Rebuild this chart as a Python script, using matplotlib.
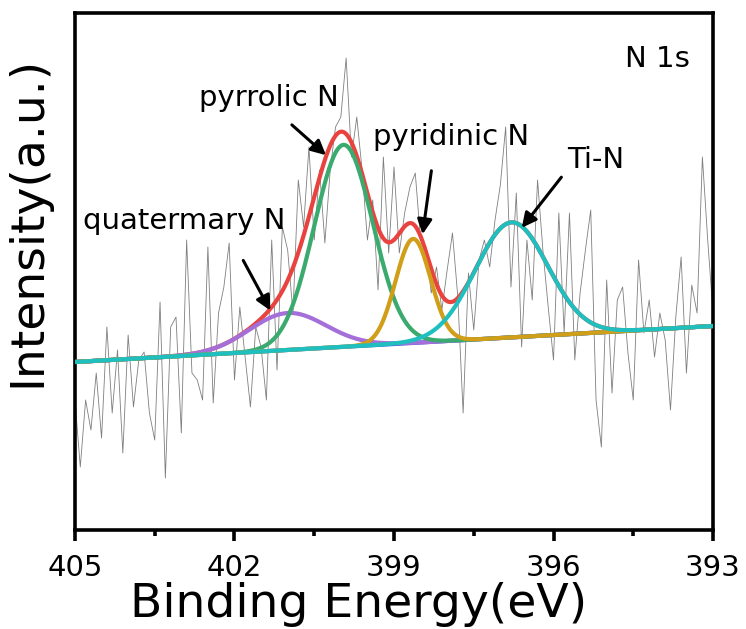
import numpy as np
import matplotlib
matplotlib.use('Agg')
import matplotlib.pyplot as plt

plt.rcParams['font.family'] = ['DejaVu Sans']

# raw N 1s spectrum, 0.1 eV steps from 405 down to 393 eV (arb. units)
raw_be = np.round(np.linspace(405.0, 393.0, 121), 2)
raw_counts = [
    130, 63, 130, 100, 157, 92, 203, 117, 180, 77, 195, 123, 170, 178, 117, 90, 228, 52, 203, 213, 97,
    290, 157, 150, 130, 283, 127, 217, 243, 287, 150, 223, 173, 123, 203, 183, 130, 290, 160, 303, 280,
    217, 350, 303, 383, 290, 360, 287, 360, 403, 413, 472, 373, 413, 360, 290, 330, 240, 373, 277, 363,
    277, 317, 343, 357, 290, 283, 237, 263, 220, 260, 297, 233, 117, 257, 200, 270, 290, 263, 310, 345,
    403, 243, 337, 183, 290, 230, 350, 280, 223, 170, 317, 197, 317, 170, 237, 280, 320, 130, 83, 250,
    137, 230, 243, 177, 130, 270, 197, 230, 173, 217, 190, 120, 213, 273, 157, 245, 217, 373, 290, 217,
]

# linear background (value at 405 eV and at 393 eV)
bg_ends = [168, 204]

# fitted components
peak_names = ['quatermary N', 'pyrrolic N', 'pyridinic N', 'Ti-N']
peak_centers = [401.0, 399.95, 398.64, 396.79]
peak_heights = [37, 202, 104, 115]
peak_sigmas = [0.72, 0.55, 0.33, 0.68]
peak_colors = ['#A46FD8', '#3BAA6E', '#D09E18', '#1FBFBF']

be = np.linspace(405, 393, 800)
bg = np.interp(be, [393, 405], bg_ends[::-1])

fig = plt.figure(figsize=(7.46, 6.29), dpi=100)
ax = fig.add_axes([0.1005, 0.1574, 0.8553, 0.8219])

ax.plot(raw_be, raw_counts, color='#7f7f7f', lw=0.6, zorder=1)

comps = []
for c, h, s in zip(peak_centers, peak_heights, peak_sigmas):
    comps.append(h * np.exp(-(be - c) ** 2 / (2 * s ** 2)))

ax.plot(be, bg, color='#3a5fd9', lw=3, zorder=2)
ax.plot(be, bg + np.sum(comps, axis=0), color='#E8433F', lw=3, zorder=3)
for i in [1, 0, 2, 3]:
    ax.plot(be, bg + comps[i], color=peak_colors[i], lw=3, zorder=4 + i)

ax.set_xlim(405, 393)
ax.set_ylim(0, 517)
ax.set_xticks([405, 402, 399, 396, 393])
ax.set_xticks([403.5, 400.5, 397.5, 394.5], minor=True)
ax.set_yticks([])
for sp in ax.spines.values():
    sp.set_linewidth(2.6)
ax.tick_params(axis='x', which='major', direction='out', length=8, width=2.6,
               labelsize=21, pad=9)
ax.tick_params(axis='x', which='minor', direction='out', length=4, width=2.6)

ax.set_xlabel('Binding Energy(eV)', fontsize=34)
ax.xaxis.set_label_coords(0.444, -0.100)
ax.set_ylabel('Intensity(a.u.)', fontsize=34)
ax.yaxis.set_label_coords(-0.039, 0.596)

arrow = dict(arrowstyle='-|>', color='black', lw=2.2, mutation_scale=22)
ax.annotate('', xy=(401.30, 217), xytext=(401.86, 272), arrowprops=arrow, zorder=10)
ax.annotate('', xy=(400.24, 373), xytext=(400.96, 407), arrowprops=arrow, zorder=10)
ax.annotate('', xy=(398.47, 293), xytext=(398.29, 362), arrowprops=arrow, zorder=10)
ax.annotate('', xy=(396.63, 300), xytext=(395.82, 355), arrowprops=arrow, zorder=10)

ax.text(404.85, 301, peak_names[0], fontsize=21, va='baseline')
ax.text(402.67, 424, peak_names[1], fontsize=21, va='baseline')
ax.text(399.40, 385, peak_names[2], fontsize=21, va='baseline')
ax.text(395.75, 362, peak_names[3], fontsize=21, va='baseline')
ax.text(394.66, 463, 'N 1s', fontsize=21, va='baseline')

fig.savefig('out.png', dpi=100)
